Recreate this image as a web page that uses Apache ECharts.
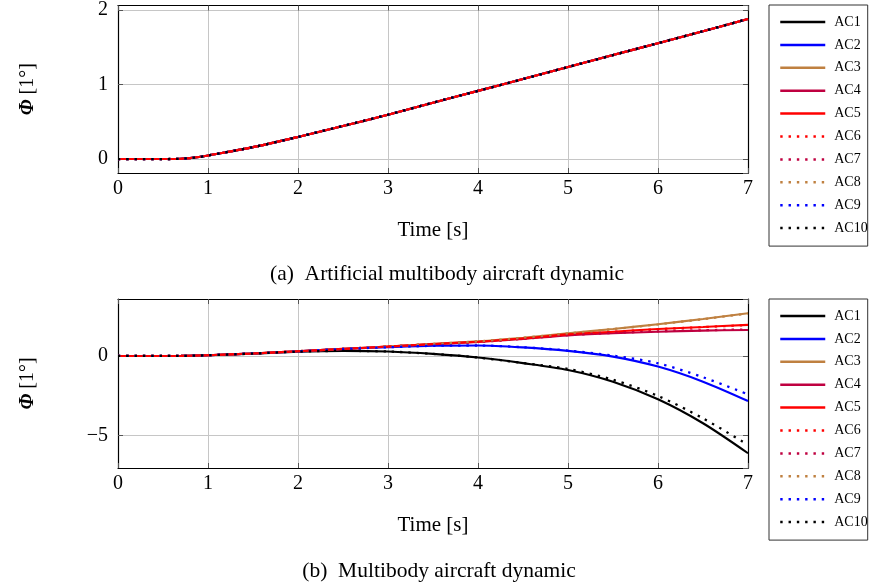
<!DOCTYPE html>
<html>
<head>
<meta charset="utf-8">
<title>Roll angle response</title>
<script src="https://cdn.jsdelivr.net/npm/echarts@6/dist/echarts.min.js"></script>
<style>
  html, body { margin: 0; padding: 0; background: #fff; }
  #chart { width: 872px; height: 584px; }
</style>
</head>
<body>
<div id="chart"></div>
<script>
// Sample times [s]
const time = [0, 0.5, 0.6, 0.7, 0.8, 0.9, 1, 1.5, 2, 2.5, 3, 3.5, 4, 4.5, 5, 5.5, 6, 6.5, 7];

// (a) Artificial multibody dynamic: all ten configurations share one response
const phiArtificial = [0, 0, 0.001, 0.005, 0.013, 0.027, 0.048, 0.16, 0.297, 0.444, 0.595, 0.757, 0.915, 1.073, 1.235, 1.395, 1.555, 1.715, 1.88];

// (b) Multibody dynamic, one response per configuration
const phiAC1  = [0, 0, 0.001, 0.005, 0.013, 0.027, 0.046, 0.15, 0.27, 0.32, 0.28, 0.13, -0.1, -0.45, -0.88, -1.62, -2.73, -4.24, -6.13];
const phiAC2  = [0, 0, 0.001, 0.005, 0.013, 0.027, 0.047, 0.16, 0.29, 0.44, 0.55, 0.64, 0.66, 0.54, 0.32, -0.04, -0.67, -1.62, -2.84];
const phiAC3  = [0, 0, 0.001, 0.005, 0.013, 0.027, 0.048, 0.16, 0.297, 0.445, 0.6, 0.76, 0.92, 1.15, 1.43, 1.7, 2.0, 2.33, 2.69];
const phiAC4  = [0, 0, 0.001, 0.005, 0.013, 0.027, 0.048, 0.16, 0.297, 0.443, 0.59, 0.74, 0.88, 1.08, 1.3, 1.43, 1.53, 1.6, 1.64];
const phiAC5  = [0, 0, 0.001, 0.005, 0.013, 0.027, 0.048, 0.16, 0.297, 0.444, 0.595, 0.75, 0.9, 1.1, 1.36, 1.53, 1.7, 1.83, 1.96];
const phiAC6  = [0, 0, 0.001, 0.005, 0.013, 0.027, 0.048, 0.16, 0.297, 0.444, 0.595, 0.75, 0.9, 1.1, 1.35, 1.52, 1.69, 1.82, 1.95];
const phiAC7  = [0, 0, 0.001, 0.005, 0.013, 0.027, 0.048, 0.16, 0.297, 0.443, 0.59, 0.74, 0.88, 1.08, 1.31, 1.45, 1.55, 1.62, 1.67];
const phiAC8  = [0, 0, 0.001, 0.005, 0.013, 0.027, 0.048, 0.16, 0.297, 0.445, 0.6, 0.76, 0.92, 1.15, 1.42, 1.69, 1.99, 2.32, 2.68];
const phiAC9  = [0, 0, 0.001, 0.005, 0.013, 0.027, 0.047, 0.16, 0.29, 0.44, 0.55, 0.64, 0.66, 0.55, 0.34, 0.02, -0.46, -1.34, -2.42];
const phiAC10 = [0, 0, 0.001, 0.005, 0.013, 0.027, 0.046, 0.15, 0.27, 0.32, 0.28, 0.13, -0.1, -0.44, -0.82, -1.5, -2.52, -3.93, -5.6];

const names = ['AC1', 'AC2', 'AC3', 'AC4', 'AC5', 'AC6', 'AC7', 'AC8', 'AC9', 'AC10'];
const colors = ['#000000', '#0000ff', '#bf8040', '#bf0040', '#ff0000', '#ff0000', '#bf0040', '#bf8040', '#0000ff', '#000000'];
const dotted = [false, false, false, false, false, true, true, true, true, true];
const multibody = [phiAC1, phiAC2, phiAC3, phiAC4, phiAC5, phiAC6, phiAC7, phiAC8, phiAC9, phiAC10];

const xTicks = [0, 1, 2, 3, 4, 5, 6, 7];

const FONT = '"Liberation Serif", "Times New Roman", serif';
const pair = (ys) => time.map((t, i) => [t, ys[i]]);

function lineSeries(idx, ys, grid) {
  return {
    type: 'line',
    name: names[idx],
    xAxisIndex: grid * 2,
    yAxisIndex: grid * 2,
    data: pair(ys),
    smooth: 0.3,
    symbol: 'none',
    animation: false,
    lineStyle: {
      color: colors[idx],
      width: dotted[idx] ? 2.3 : 2.1,
      type: dotted[idx] ? [2.4, 5.9] : 'solid',
      cap: 'butt'
    },
    itemStyle: { color: colors[idx] }
  };
}

const frameLine = { show: true, onZero: false, lineStyle: { color: '#000', width: 1.2 } };
const innerTick = { show: true, inside: true, length: 5, lineStyle: { color: '#555' } };
const gridLine = { show: true, lineStyle: { color: '#c6c6c6', width: 1 } };

function xAxes(grid) {
  const base = {
    type: 'value', gridIndex: grid, min: xTicks[0], max: xTicks[xTicks.length - 1], interval: 1
  };
  return [
    Object.assign({}, base, {
      position: 'bottom',
      name: 'Time [s]',
      nameLocation: 'middle',
      nameGap: 47,
      nameTextStyle: { fontFamily: FONT, fontSize: 21, color: '#000' },
      axisLine: frameLine,
      axisTick: innerTick,
      axisLabel: { fontFamily: FONT, fontSize: 20, color: '#000', margin: 6 },
      splitLine: gridLine
    }),
    Object.assign({}, base, {
      position: 'top',
      axisLine: frameLine,
      axisTick: innerTick,
      axisLabel: { show: false },
      splitLine: { show: false }
    })
  ];
}

function yAxes(grid, min, max, step) {
  const base = {
    type: 'value', gridIndex: grid, min: min, max: max,
    splitNumber: 2, minInterval: step, maxInterval: step
  };
  return [
    Object.assign({}, base, {
      position: 'left',
      name: '{phi|Φ} [1°]',
      nameLocation: 'middle',
      nameRotate: 90,
      nameGap: 80,
      nameTextStyle: {
        fontFamily: FONT, fontSize: 20, color: '#000',
        rich: { phi: { fontFamily: FONT, fontSize: 20, fontStyle: 'italic', fontWeight: 'bold', color: '#000' } }
      },
      axisLine: frameLine,
      axisTick: innerTick,
      axisLabel: {
        fontFamily: FONT, fontSize: 20, color: '#000', margin: 10,
        showMinLabel: false, showMaxLabel: false,
        formatter: (v) => String(v).replace('-', '\u2212')
      },
      splitLine: gridLine
    }),
    Object.assign({}, base, {
      position: 'right',
      axisLine: frameLine,
      axisTick: innerTick,
      axisLabel: { show: false },
      splitLine: { show: false }
    })
  ];
}

function legendBox(top) {
  return {
    show: true,
    orient: 'vertical',
    left: 769,
    top: top,
    data: names,
    itemWidth: 45,
    itemHeight: 14,
    itemGap: 8.9,
    padding: [10, 0, 11, 10],
    borderColor: '#333',
    borderWidth: 1,
    selectedMode: false,
    itemStyle: { opacity: 0, borderWidth: 0 },
    lineStyle: { width: 2.5 },
    textStyle: { fontFamily: FONT, fontSize: 14, color: '#000', lineHeight: 14, padding: [0, 0, 0, 4] }
  };
}

const series = [];
names.forEach((n, i) => series.push(lineSeries(i, phiArtificial, 0)));
names.forEach((n, i) => series.push(lineSeries(i, multibody[i], 1)));

const chart = echarts.init(document.getElementById('chart'), null, { renderer: 'canvas' });
chart.setOption({
  backgroundColor: '#fff',
  animation: false,
  title: [
    { text: '(a)\u2002Artificial multibody aircraft dynamic', left: 442, top: 258, textAlign: 'center',
      textStyle: { fontFamily: FONT, fontSize: 21.5, fontWeight: 'normal', color: '#000' } },
    { text: '(b)\u2002Multibody aircraft dynamic', left: 434, top: 555, textAlign: 'center',
      textStyle: { fontFamily: FONT, fontSize: 21.5, fontWeight: 'normal', color: '#000' } }
  ],
  legend: [legendBox(5), legendBox(299)],
  grid: [
    { left: 118, top: 5, width: 630, height: 168 },
    { left: 118, top: 299, width: 630, height: 169 }
  ],
  xAxis: [...xAxes(0), ...xAxes(1)],
  yAxis: [...yAxes(0, -0.187, 2.06, 1), ...yAxes(1, -7.06, 3.59, 5)],
  series: series
});
</script>
</body>
</html>
